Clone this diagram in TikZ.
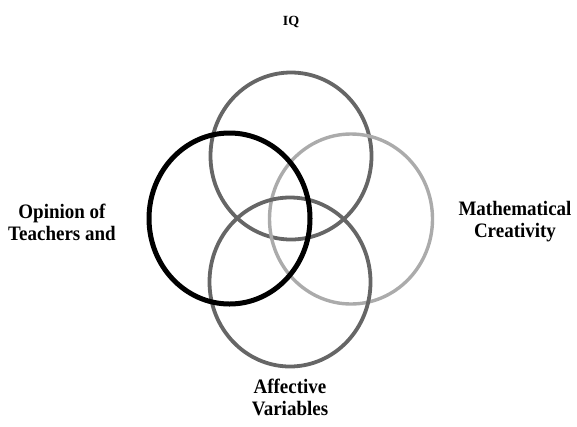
\documentclass[tikz,border=0pt]{standalone}
\usepackage{fontspec}
\setmainfont{Liberation Serif}
\begin{document}
\begin{tikzpicture}[x=1pt,y=-1pt,
  ring/.style={line width=3.8pt, draw=black!60},
  lightring/.style={line width=3.4pt, draw=black!33},
  boldring/.style={line width=5pt, draw=black},
  lbl/.style={font=\bfseries\fontsize{19}{20.5}\selectfont, align=center, inner sep=0pt, yscale=1.08, transform shape},
  smalllbl/.style={font=\bfseries\fontsize{14}{15}\selectfont, inner sep=0pt}]
\useasboundingbox (0,0) rectangle (577,426);
\draw[ring] (291,156) ellipse [x radius=80.5, y radius=83.5];
\draw[lightring] (351,219) ellipse [x radius=81.5, y radius=85];
\draw[ring] (290,282) ellipse [x radius=80.5, y radius=84.5];
\draw[boldring] (229.5,218.5) ellipse [x radius=80.5, y radius=85.5];
\node[smalllbl] (iq) at (291,22) {IQ};
\node[lbl] (op) at (62,222) {Opinion of\\Teachers and};
\node[lbl] (mc) at (515,222) {Mathematical\\Creativity};
\node[lbl] (av) at (290,397) {Affective\\Variables};
\end{tikzpicture}
\end{document}
